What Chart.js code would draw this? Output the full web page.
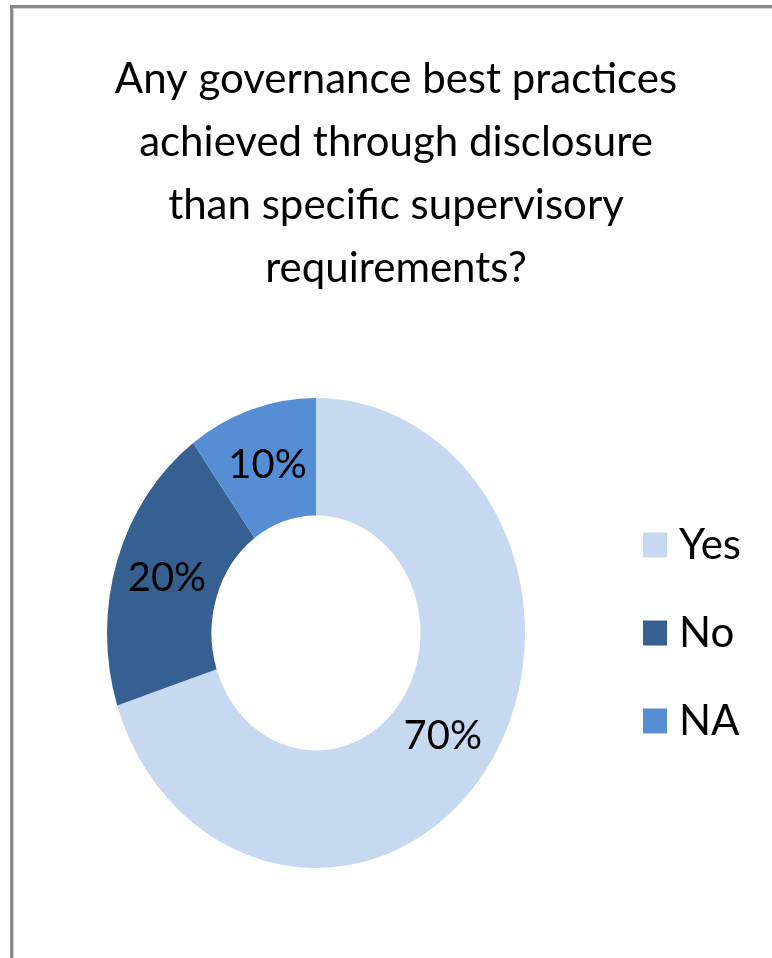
<!DOCTYPE html>
<html>
<head>
<meta charset="utf-8">
<title>Governance best practices</title>
<script src="https://cdn.jsdelivr.net/npm/chart.js@4.4.1/dist/chart.umd.min.js"></script>
<style>
    html, body { margin: 0; padding: 0; background: #fff; }
    .frame {
        position: absolute; left: 10px; top: 5px; width: 800px; height: 1000px;
        border-left: 3px solid #8a8a8a; border-top: 3px solid #8a8a8a;
        box-shadow: inset 1px 1px 0 #d2d2d2;
    }
    #myChart { position: absolute; left: 0; top: 0; }
</style>
</head>
<body>
<div class="frame"></div>
<canvas id="myChart" width="772" height="958"></canvas>
<script>
const titleLines = [
    'Any governance best practices',
    'achieved through disclosure',
    'than specific supervisory',
    'requirements?'
];
const answers = ['Yes', 'No', 'NA'];
const shares = [70, 20, 10];
const sliceColors = ['#c6d9f1', '#376092', '#558ed5'];

const fontFamily = 'Lato, "Open Sans", sans-serif';
// the ring is a little taller than it is wide
const stretchY = 1.124;

Chart.defaults.font.family = fontFamily;

// stretch the arcs vertically, then put the % labels on the middle of each slice
const ringPlugin = {
    id: 'ring',
    afterLayout(chart) {
        // title is centred on the whole frame, not only the padded area
        chart.titleBlock.left = 20;
        chart.titleBlock.right = chart.width;
    },
    beforeDatasetsDraw(chart) {
        const arc = chart.getDatasetMeta(0).data[0];
        const ctx = chart.ctx;
        ctx.save();
        ctx.translate(arc.x, arc.y);
        ctx.scale(1, stretchY);
        ctx.translate(-arc.x, -arc.y);
    },
    afterDatasetsDraw(chart) {
        const ctx = chart.ctx;
        ctx.restore();

        const meta = chart.getDatasetMeta(0);
        const total = shares.reduce((a, b) => a + b, 0);
        ctx.save();
        ctx.font = '40px ' + fontFamily;
        ctx.fillStyle = '#000';
        ctx.textAlign = 'center';
        ctx.textBaseline = 'middle';
        meta.data.forEach((arc, i) => {
            const p = arc.getCenterPoint();
            const y = arc.y + (p.y - arc.y) * stretchY;
            ctx.fillText(Math.round(shares[i] / total * 100) + '%', p.x, y);
        });
        ctx.restore();
    }
};

function legendLabels(chart) {
    const items = Chart.overrides.doughnut.plugins.legend.labels.generateLabels(chart);
    // thick outline in the same colour gives a bigger square with the text kept close
    items.forEach(item => {
        item.strokeStyle = item.fillStyle;
        item.lineWidth = 18;
    });
    return items;
}

const data = {
    labels: answers,
    datasets: [{
        data: shares,
        backgroundColor: sliceColors,
        borderWidth: 0,
        hoverOffset: 0
    }]
};

const config = {
    type: 'doughnut',
    data,
    options: {
        responsive: false,
        animation: false,
        events: [],
        cutout: '50%',
        layout: {
            padding: { left: 26, right: 21, top: 10, bottom: 116 }
        },
        plugins: {
            title: {
                display: true,
                text: titleLines,
                color: '#000',
                font: { size: 42, weight: 'normal', lineHeight: 1.5 },
                padding: { top: 37.5, bottom: 124.5 }
            },
            legend: {
                position: 'right',
                fullSize: false,
                labels: {
                    color: '#000',
                    font: { size: 42 },
                    boxWidth: 6,
                    boxHeight: 7,
                    padding: 46,
                    generateLabels: legendLabels
                }
            },
            tooltip: { enabled: false }
        }
    },
    plugins: [ringPlugin]
};

const myChart = new Chart(document.getElementById('myChart'), config);
</script>
</body>
</html>
